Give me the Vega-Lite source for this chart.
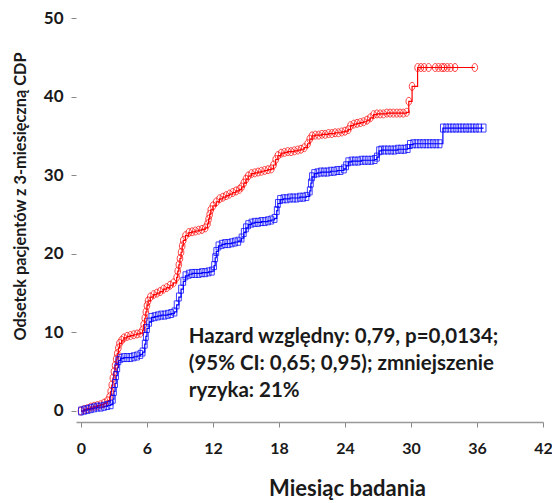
{
  "$schema": "https://vega.github.io/schema/vega-lite/v6.json",
  "autosize": {"type": "none"},
  "width": 467,
  "height": 404,
  "padding": {"left": 76, "top": 18, "right": 9, "bottom": 81},
  "background": "white",
  "config": {"view": {"stroke": null}, "font": "Lato"},
  "datasets": {
    "curves": [
      {"grupa": "kontrola", "miesiac": 0.0, "odsetek": 0},
      {"grupa": "kontrola", "miesiac": 0.3, "odsetek": 0.2},
      {"grupa": "kontrola", "miesiac": 0.6, "odsetek": 0.3},
      {"grupa": "kontrola", "miesiac": 0.9, "odsetek": 0.5},
      {"grupa": "kontrola", "miesiac": 1.2, "odsetek": 0.6},
      {"grupa": "kontrola", "miesiac": 1.5, "odsetek": 0.7},
      {"grupa": "kontrola", "miesiac": 1.8, "odsetek": 0.8},
      {"grupa": "kontrola", "miesiac": 2.1, "odsetek": 1.0},
      {"grupa": "kontrola", "miesiac": 2.4, "odsetek": 1.3},
      {"grupa": "kontrola", "miesiac": 2.6, "odsetek": 1.8},
      {"grupa": "kontrola", "miesiac": 2.7, "odsetek": 2.5},
      {"grupa": "kontrola", "miesiac": 2.8, "odsetek": 3.3},
      {"grupa": "kontrola", "miesiac": 2.9, "odsetek": 4.2},
      {"grupa": "kontrola", "miesiac": 3.0, "odsetek": 5.0},
      {"grupa": "kontrola", "miesiac": 3.1, "odsetek": 5.8},
      {"grupa": "kontrola", "miesiac": 3.2, "odsetek": 6.6},
      {"grupa": "kontrola", "miesiac": 3.3, "odsetek": 7.3},
      {"grupa": "kontrola", "miesiac": 3.4, "odsetek": 8.0},
      {"grupa": "kontrola", "miesiac": 3.5, "odsetek": 8.6},
      {"grupa": "kontrola", "miesiac": 3.7, "odsetek": 9.0},
      {"grupa": "kontrola", "miesiac": 3.9, "odsetek": 9.3},
      {"grupa": "kontrola", "miesiac": 4.2, "odsetek": 9.5},
      {"grupa": "kontrola", "miesiac": 4.5, "odsetek": 9.6},
      {"grupa": "kontrola", "miesiac": 4.8, "odsetek": 9.7},
      {"grupa": "kontrola", "miesiac": 5.1, "odsetek": 9.8},
      {"grupa": "kontrola", "miesiac": 5.4, "odsetek": 9.9},
      {"grupa": "kontrola", "miesiac": 5.6, "odsetek": 10.3},
      {"grupa": "kontrola", "miesiac": 5.7, "odsetek": 11.0},
      {"grupa": "kontrola", "miesiac": 5.8, "odsetek": 11.8},
      {"grupa": "kontrola", "miesiac": 5.9, "odsetek": 12.6},
      {"grupa": "kontrola", "miesiac": 6.0, "odsetek": 13.4},
      {"grupa": "kontrola", "miesiac": 6.1, "odsetek": 14.0},
      {"grupa": "kontrola", "miesiac": 6.3, "odsetek": 14.5},
      {"grupa": "kontrola", "miesiac": 6.6, "odsetek": 14.8},
      {"grupa": "kontrola", "miesiac": 6.9, "odsetek": 15.0},
      {"grupa": "kontrola", "miesiac": 7.2, "odsetek": 15.2},
      {"grupa": "kontrola", "miesiac": 7.5, "odsetek": 15.5},
      {"grupa": "kontrola", "miesiac": 7.8, "odsetek": 15.7},
      {"grupa": "kontrola", "miesiac": 8.1, "odsetek": 16.0},
      {"grupa": "kontrola", "miesiac": 8.4, "odsetek": 16.3},
      {"grupa": "kontrola", "miesiac": 8.7, "odsetek": 17.0},
      {"grupa": "kontrola", "miesiac": 8.8, "odsetek": 17.8},
      {"grupa": "kontrola", "miesiac": 8.9, "odsetek": 18.6},
      {"grupa": "kontrola", "miesiac": 9.0, "odsetek": 19.4},
      {"grupa": "kontrola", "miesiac": 9.1, "odsetek": 20.2},
      {"grupa": "kontrola", "miesiac": 9.2, "odsetek": 21.0},
      {"grupa": "kontrola", "miesiac": 9.3, "odsetek": 21.7},
      {"grupa": "kontrola", "miesiac": 9.5, "odsetek": 22.3},
      {"grupa": "kontrola", "miesiac": 9.8, "odsetek": 22.7},
      {"grupa": "kontrola", "miesiac": 10.1, "odsetek": 22.8},
      {"grupa": "kontrola", "miesiac": 10.4, "odsetek": 22.9},
      {"grupa": "kontrola", "miesiac": 10.7, "odsetek": 23.0},
      {"grupa": "kontrola", "miesiac": 11.0, "odsetek": 23.1},
      {"grupa": "kontrola", "miesiac": 11.3, "odsetek": 23.3},
      {"grupa": "kontrola", "miesiac": 11.5, "odsetek": 23.8},
      {"grupa": "kontrola", "miesiac": 11.6, "odsetek": 24.4},
      {"grupa": "kontrola", "miesiac": 11.7, "odsetek": 25.0},
      {"grupa": "kontrola", "miesiac": 11.8, "odsetek": 25.6},
      {"grupa": "kontrola", "miesiac": 12.0, "odsetek": 26.1},
      {"grupa": "kontrola", "miesiac": 12.3, "odsetek": 26.6},
      {"grupa": "kontrola", "miesiac": 12.6, "odsetek": 27.0},
      {"grupa": "kontrola", "miesiac": 12.9, "odsetek": 27.2},
      {"grupa": "kontrola", "miesiac": 13.2, "odsetek": 27.4},
      {"grupa": "kontrola", "miesiac": 13.5, "odsetek": 27.6},
      {"grupa": "kontrola", "miesiac": 13.8, "odsetek": 27.8},
      {"grupa": "kontrola", "miesiac": 14.1, "odsetek": 28.0},
      {"grupa": "kontrola", "miesiac": 14.4, "odsetek": 28.2},
      {"grupa": "kontrola", "miesiac": 14.6, "odsetek": 28.5},
      {"grupa": "kontrola", "miesiac": 14.8, "odsetek": 29.0},
      {"grupa": "kontrola", "miesiac": 15.0, "odsetek": 29.5},
      {"grupa": "kontrola", "miesiac": 15.2, "odsetek": 29.9},
      {"grupa": "kontrola", "miesiac": 15.5, "odsetek": 30.2},
      {"grupa": "kontrola", "miesiac": 15.8, "odsetek": 30.3},
      {"grupa": "kontrola", "miesiac": 16.1, "odsetek": 30.4},
      {"grupa": "kontrola", "miesiac": 16.4, "odsetek": 30.5},
      {"grupa": "kontrola", "miesiac": 16.7, "odsetek": 30.6},
      {"grupa": "kontrola", "miesiac": 17.0, "odsetek": 30.7},
      {"grupa": "kontrola", "miesiac": 17.3, "odsetek": 30.8},
      {"grupa": "kontrola", "miesiac": 17.5, "odsetek": 31.3},
      {"grupa": "kontrola", "miesiac": 17.7, "odsetek": 32.0},
      {"grupa": "kontrola", "miesiac": 17.9, "odsetek": 32.5},
      {"grupa": "kontrola", "miesiac": 18.2, "odsetek": 32.8},
      {"grupa": "kontrola", "miesiac": 18.5, "odsetek": 32.9},
      {"grupa": "kontrola", "miesiac": 18.8, "odsetek": 33.0},
      {"grupa": "kontrola", "miesiac": 19.1, "odsetek": 33.0},
      {"grupa": "kontrola", "miesiac": 19.4, "odsetek": 33.1},
      {"grupa": "kontrola", "miesiac": 19.7, "odsetek": 33.2},
      {"grupa": "kontrola", "miesiac": 20.0, "odsetek": 33.3},
      {"grupa": "kontrola", "miesiac": 20.3, "odsetek": 33.5},
      {"grupa": "kontrola", "miesiac": 20.6, "odsetek": 34.0},
      {"grupa": "kontrola", "miesiac": 20.8, "odsetek": 34.6},
      {"grupa": "kontrola", "miesiac": 21.0, "odsetek": 35.0},
      {"grupa": "kontrola", "miesiac": 21.3, "odsetek": 35.1},
      {"grupa": "kontrola", "miesiac": 21.6, "odsetek": 35.1},
      {"grupa": "kontrola", "miesiac": 21.9, "odsetek": 35.2},
      {"grupa": "kontrola", "miesiac": 22.2, "odsetek": 35.2},
      {"grupa": "kontrola", "miesiac": 22.5, "odsetek": 35.3},
      {"grupa": "kontrola", "miesiac": 22.8, "odsetek": 35.3},
      {"grupa": "kontrola", "miesiac": 23.1, "odsetek": 35.4},
      {"grupa": "kontrola", "miesiac": 23.4, "odsetek": 35.4},
      {"grupa": "kontrola", "miesiac": 23.7, "odsetek": 35.5},
      {"grupa": "kontrola", "miesiac": 24.0, "odsetek": 35.6},
      {"grupa": "kontrola", "miesiac": 24.3, "odsetek": 35.8},
      {"grupa": "kontrola", "miesiac": 24.5, "odsetek": 36.3},
      {"grupa": "kontrola", "miesiac": 24.8, "odsetek": 36.5},
      {"grupa": "kontrola", "miesiac": 25.1, "odsetek": 36.6},
      {"grupa": "kontrola", "miesiac": 25.4, "odsetek": 36.7},
      {"grupa": "kontrola", "miesiac": 25.7, "odsetek": 36.8},
      {"grupa": "kontrola", "miesiac": 26.0, "odsetek": 37.0},
      {"grupa": "kontrola", "miesiac": 26.3, "odsetek": 37.3},
      {"grupa": "kontrola", "miesiac": 26.6, "odsetek": 37.7},
      {"grupa": "kontrola", "miesiac": 26.9, "odsetek": 37.8},
      {"grupa": "kontrola", "miesiac": 27.2, "odsetek": 37.8},
      {"grupa": "kontrola", "miesiac": 27.5, "odsetek": 37.8},
      {"grupa": "kontrola", "miesiac": 27.8, "odsetek": 37.9},
      {"grupa": "kontrola", "miesiac": 28.1, "odsetek": 37.9},
      {"grupa": "kontrola", "miesiac": 28.4, "odsetek": 37.9},
      {"grupa": "kontrola", "miesiac": 28.7, "odsetek": 37.9},
      {"grupa": "kontrola", "miesiac": 29.0, "odsetek": 37.9},
      {"grupa": "kontrola", "miesiac": 29.3, "odsetek": 37.9},
      {"grupa": "kontrola", "miesiac": 29.6, "odsetek": 38.0},
      {"grupa": "kontrola", "miesiac": 29.8, "odsetek": 39.4},
      {"grupa": "kontrola", "miesiac": 30.1, "odsetek": 41.3},
      {"grupa": "kontrola", "miesiac": 30.6, "odsetek": 43.7},
      {"grupa": "kontrola", "miesiac": 30.9, "odsetek": 43.7},
      {"grupa": "kontrola", "miesiac": 31.2, "odsetek": 43.7},
      {"grupa": "kontrola", "miesiac": 31.6, "odsetek": 43.7},
      {"grupa": "kontrola", "miesiac": 32.2, "odsetek": 43.7},
      {"grupa": "kontrola", "miesiac": 32.5, "odsetek": 43.7},
      {"grupa": "kontrola", "miesiac": 32.8, "odsetek": 43.7},
      {"grupa": "kontrola", "miesiac": 33.0, "odsetek": 43.7},
      {"grupa": "kontrola", "miesiac": 33.3, "odsetek": 43.7},
      {"grupa": "kontrola", "miesiac": 33.6, "odsetek": 43.7},
      {"grupa": "kontrola", "miesiac": 34.0, "odsetek": 43.7},
      {"grupa": "kontrola", "miesiac": 35.8, "odsetek": 43.7},
      {"grupa": "leczenie", "miesiac": 0.0, "odsetek": 0},
      {"grupa": "leczenie", "miesiac": 0.3, "odsetek": 0.1},
      {"grupa": "leczenie", "miesiac": 0.6, "odsetek": 0.2},
      {"grupa": "leczenie", "miesiac": 0.9, "odsetek": 0.3},
      {"grupa": "leczenie", "miesiac": 1.2, "odsetek": 0.4},
      {"grupa": "leczenie", "miesiac": 1.5, "odsetek": 0.5},
      {"grupa": "leczenie", "miesiac": 1.8, "odsetek": 0.5},
      {"grupa": "leczenie", "miesiac": 2.1, "odsetek": 0.6},
      {"grupa": "leczenie", "miesiac": 2.4, "odsetek": 0.7},
      {"grupa": "leczenie", "miesiac": 2.7, "odsetek": 0.8},
      {"grupa": "leczenie", "miesiac": 2.9, "odsetek": 1.5},
      {"grupa": "leczenie", "miesiac": 3.0, "odsetek": 2.5},
      {"grupa": "leczenie", "miesiac": 3.1, "odsetek": 3.5},
      {"grupa": "leczenie", "miesiac": 3.2, "odsetek": 4.5},
      {"grupa": "leczenie", "miesiac": 3.3, "odsetek": 5.5},
      {"grupa": "leczenie", "miesiac": 3.4, "odsetek": 6.4},
      {"grupa": "leczenie", "miesiac": 3.6, "odsetek": 6.7},
      {"grupa": "leczenie", "miesiac": 3.9, "odsetek": 6.8},
      {"grupa": "leczenie", "miesiac": 4.2, "odsetek": 6.8},
      {"grupa": "leczenie", "miesiac": 4.5, "odsetek": 6.8},
      {"grupa": "leczenie", "miesiac": 4.8, "odsetek": 6.9},
      {"grupa": "leczenie", "miesiac": 5.1, "odsetek": 7.0},
      {"grupa": "leczenie", "miesiac": 5.4, "odsetek": 7.2},
      {"grupa": "leczenie", "miesiac": 5.6, "odsetek": 7.5},
      {"grupa": "leczenie", "miesiac": 5.8, "odsetek": 8.5},
      {"grupa": "leczenie", "miesiac": 5.9, "odsetek": 9.5},
      {"grupa": "leczenie", "miesiac": 6.0, "odsetek": 10.5},
      {"grupa": "leczenie", "miesiac": 6.2, "odsetek": 11.3},
      {"grupa": "leczenie", "miesiac": 6.4, "odsetek": 11.9},
      {"grupa": "leczenie", "miesiac": 6.7, "odsetek": 12.0},
      {"grupa": "leczenie", "miesiac": 7.0, "odsetek": 12.1},
      {"grupa": "leczenie", "miesiac": 7.3, "odsetek": 12.2},
      {"grupa": "leczenie", "miesiac": 7.6, "odsetek": 12.2},
      {"grupa": "leczenie", "miesiac": 7.9, "odsetek": 12.3},
      {"grupa": "leczenie", "miesiac": 8.2, "odsetek": 12.4},
      {"grupa": "leczenie", "miesiac": 8.5, "odsetek": 12.6},
      {"grupa": "leczenie", "miesiac": 8.7, "odsetek": 13.5},
      {"grupa": "leczenie", "miesiac": 8.9, "odsetek": 14.5},
      {"grupa": "leczenie", "miesiac": 9.1, "odsetek": 15.5},
      {"grupa": "leczenie", "miesiac": 9.3, "odsetek": 16.5},
      {"grupa": "leczenie", "miesiac": 9.5, "odsetek": 17.2},
      {"grupa": "leczenie", "miesiac": 9.8, "odsetek": 17.4},
      {"grupa": "leczenie", "miesiac": 10.1, "odsetek": 17.5},
      {"grupa": "leczenie", "miesiac": 10.4, "odsetek": 17.5},
      {"grupa": "leczenie", "miesiac": 10.7, "odsetek": 17.5},
      {"grupa": "leczenie", "miesiac": 11.0, "odsetek": 17.6},
      {"grupa": "leczenie", "miesiac": 11.3, "odsetek": 17.6},
      {"grupa": "leczenie", "miesiac": 11.6, "odsetek": 17.7},
      {"grupa": "leczenie", "miesiac": 11.9, "odsetek": 17.8},
      {"grupa": "leczenie", "miesiac": 12.1, "odsetek": 18.5},
      {"grupa": "leczenie", "miesiac": 12.2, "odsetek": 19.5},
      {"grupa": "leczenie", "miesiac": 12.3, "odsetek": 20.3},
      {"grupa": "leczenie", "miesiac": 12.5, "odsetek": 21.0},
      {"grupa": "leczenie", "miesiac": 12.8, "odsetek": 21.2},
      {"grupa": "leczenie", "miesiac": 13.1, "odsetek": 21.3},
      {"grupa": "leczenie", "miesiac": 13.4, "odsetek": 21.3},
      {"grupa": "leczenie", "miesiac": 13.7, "odsetek": 21.4},
      {"grupa": "leczenie", "miesiac": 14.0, "odsetek": 21.5},
      {"grupa": "leczenie", "miesiac": 14.3, "odsetek": 21.6},
      {"grupa": "leczenie", "miesiac": 14.6, "odsetek": 22.0},
      {"grupa": "leczenie", "miesiac": 14.8, "odsetek": 22.7},
      {"grupa": "leczenie", "miesiac": 15.0, "odsetek": 23.3},
      {"grupa": "leczenie", "miesiac": 15.2, "odsetek": 23.7},
      {"grupa": "leczenie", "miesiac": 15.5, "odsetek": 23.9},
      {"grupa": "leczenie", "miesiac": 15.8, "odsetek": 24.0},
      {"grupa": "leczenie", "miesiac": 16.1, "odsetek": 24.0},
      {"grupa": "leczenie", "miesiac": 16.4, "odsetek": 24.1},
      {"grupa": "leczenie", "miesiac": 16.7, "odsetek": 24.1},
      {"grupa": "leczenie", "miesiac": 17.0, "odsetek": 24.2},
      {"grupa": "leczenie", "miesiac": 17.3, "odsetek": 24.3},
      {"grupa": "leczenie", "miesiac": 17.6, "odsetek": 24.5},
      {"grupa": "leczenie", "miesiac": 17.8, "odsetek": 25.5},
      {"grupa": "leczenie", "miesiac": 17.9, "odsetek": 26.4},
      {"grupa": "leczenie", "miesiac": 18.1, "odsetek": 26.9},
      {"grupa": "leczenie", "miesiac": 18.4, "odsetek": 27.0},
      {"grupa": "leczenie", "miesiac": 18.7, "odsetek": 27.0},
      {"grupa": "leczenie", "miesiac": 19.0, "odsetek": 27.1},
      {"grupa": "leczenie", "miesiac": 19.3, "odsetek": 27.1},
      {"grupa": "leczenie", "miesiac": 19.6, "odsetek": 27.1},
      {"grupa": "leczenie", "miesiac": 19.9, "odsetek": 27.2},
      {"grupa": "leczenie", "miesiac": 20.2, "odsetek": 27.2},
      {"grupa": "leczenie", "miesiac": 20.5, "odsetek": 27.3},
      {"grupa": "leczenie", "miesiac": 20.8, "odsetek": 28.0},
      {"grupa": "leczenie", "miesiac": 20.9, "odsetek": 29.0},
      {"grupa": "leczenie", "miesiac": 21.0, "odsetek": 29.8},
      {"grupa": "leczenie", "miesiac": 21.2, "odsetek": 30.2},
      {"grupa": "leczenie", "miesiac": 21.5, "odsetek": 30.3},
      {"grupa": "leczenie", "miesiac": 21.8, "odsetek": 30.4},
      {"grupa": "leczenie", "miesiac": 22.1, "odsetek": 30.4},
      {"grupa": "leczenie", "miesiac": 22.4, "odsetek": 30.4},
      {"grupa": "leczenie", "miesiac": 22.7, "odsetek": 30.5},
      {"grupa": "leczenie", "miesiac": 23.0, "odsetek": 30.5},
      {"grupa": "leczenie", "miesiac": 23.3, "odsetek": 30.6},
      {"grupa": "leczenie", "miesiac": 23.6, "odsetek": 30.6},
      {"grupa": "leczenie", "miesiac": 23.9, "odsetek": 30.8},
      {"grupa": "leczenie", "miesiac": 24.1, "odsetek": 31.2},
      {"grupa": "leczenie", "miesiac": 24.3, "odsetek": 31.7},
      {"grupa": "leczenie", "miesiac": 24.6, "odsetek": 31.8},
      {"grupa": "leczenie", "miesiac": 24.9, "odsetek": 31.8},
      {"grupa": "leczenie", "miesiac": 25.2, "odsetek": 31.8},
      {"grupa": "leczenie", "miesiac": 25.5, "odsetek": 31.9},
      {"grupa": "leczenie", "miesiac": 25.8, "odsetek": 31.9},
      {"grupa": "leczenie", "miesiac": 26.1, "odsetek": 31.9},
      {"grupa": "leczenie", "miesiac": 26.4, "odsetek": 31.9},
      {"grupa": "leczenie", "miesiac": 26.7, "odsetek": 32.0},
      {"grupa": "leczenie", "miesiac": 26.9, "odsetek": 32.3},
      {"grupa": "leczenie", "miesiac": 27.1, "odsetek": 33.1},
      {"grupa": "leczenie", "miesiac": 27.3, "odsetek": 33.2},
      {"grupa": "leczenie", "miesiac": 27.6, "odsetek": 33.2},
      {"grupa": "leczenie", "miesiac": 27.9, "odsetek": 33.2},
      {"grupa": "leczenie", "miesiac": 28.2, "odsetek": 33.2},
      {"grupa": "leczenie", "miesiac": 28.5, "odsetek": 33.2},
      {"grupa": "leczenie", "miesiac": 28.8, "odsetek": 33.3},
      {"grupa": "leczenie", "miesiac": 29.1, "odsetek": 33.3},
      {"grupa": "leczenie", "miesiac": 29.4, "odsetek": 33.3},
      {"grupa": "leczenie", "miesiac": 29.7, "odsetek": 33.4},
      {"grupa": "leczenie", "miesiac": 29.9, "odsetek": 33.9},
      {"grupa": "leczenie", "miesiac": 30.2, "odsetek": 34.0},
      {"grupa": "leczenie", "miesiac": 30.5, "odsetek": 34.0},
      {"grupa": "leczenie", "miesiac": 30.8, "odsetek": 34.0},
      {"grupa": "leczenie", "miesiac": 31.1, "odsetek": 34.0},
      {"grupa": "leczenie", "miesiac": 31.4, "odsetek": 34.0},
      {"grupa": "leczenie", "miesiac": 31.7, "odsetek": 34.0},
      {"grupa": "leczenie", "miesiac": 32.0, "odsetek": 34.0},
      {"grupa": "leczenie", "miesiac": 32.3, "odsetek": 34.0},
      {"grupa": "leczenie", "miesiac": 32.6, "odsetek": 34.0},
      {"grupa": "leczenie", "miesiac": 32.9, "odsetek": 36.0},
      {"grupa": "leczenie", "miesiac": 33.2, "odsetek": 36.0},
      {"grupa": "leczenie", "miesiac": 33.5, "odsetek": 36.0},
      {"grupa": "leczenie", "miesiac": 33.8, "odsetek": 36.0},
      {"grupa": "leczenie", "miesiac": 34.1, "odsetek": 36.0},
      {"grupa": "leczenie", "miesiac": 34.4, "odsetek": 36.0},
      {"grupa": "leczenie", "miesiac": 34.7, "odsetek": 36.0},
      {"grupa": "leczenie", "miesiac": 35.0, "odsetek": 36.0},
      {"grupa": "leczenie", "miesiac": 35.3, "odsetek": 36.0},
      {"grupa": "leczenie", "miesiac": 35.6, "odsetek": 36.0},
      {"grupa": "leczenie", "miesiac": 35.9, "odsetek": 36.0},
      {"grupa": "leczenie", "miesiac": 36.2, "odsetek": 36.0},
      {"grupa": "leczenie", "miesiac": 36.6, "odsetek": 36.0}
    ],
    "notes": [
      {"tekst": "Hazard względny: 0,79, p=0,0134;", "miesiac": 9.8, "odsetek": 8.66},
      {"tekst": "(95% CI: 0,65; 0,95); zmniejszenie", "miesiac": 9.8, "odsetek": 5.22},
      {"tekst": "ryzyka: 21%", "miesiac": 9.8, "odsetek": 1.78}
    ]
  },
  "layer": [
    {
      "data": {"name": "curves"},
      "mark": {"type": "line", "interpolate": "step-after", "strokeWidth": 1.2},
      "encoding": {
        "x": {
          "field": "miesiac", "type": "quantitative",
          "scale": {"domain": [-0.45, 42], "nice": false, "zero": false},
          "axis": {
            "values": [0, 6, 12, 18, 24, 30, 36, 42],
            "title": "Miesiąc badania",
            "titleFont": "Lato", "titleFontSize": 22, "titleFontWeight": "bold", "titleColor": "#1a1a1a",
            "titleX": 271, "titleY": 73, "titleBaseline": "alphabetic", "titleAnchor": null,
            "labelFont": "Lato", "labelFontSize": 16, "labelFontWeight": "bold", "labelColor": "#1a1a1a",
            "labelPadding": 13, "labelDx": -1, "tickSize": 5, "tickColor": "#888888", "domainColor": "#999999", "domainWidth": 1.5,
            "grid": false, "labelFlush": false
          }
        },
        "y": {
          "field": "odsetek", "type": "quantitative",
          "scale": {"domain": [-1.4, 50], "nice": false, "zero": false},
          "axis": {
            "values": [0, 10, 20, 30, 40, 50],
            "title": "Odsetek pacjentów z 3-miesięczną CDP",
            "titleFont": "Lato", "titleFontSize": 16.3, "titleFontWeight": "bold", "titleColor": "#1a1a1a",
            "titleX": -56, "titleY": 178, "titleAngle": -90, "titleBaseline": "middle", "titleAlign": "center", "titleAnchor": null,
            "labelFont": "Lato", "labelFontSize": 17, "labelFontWeight": "bold", "labelColor": "#1a1a1a",
            "labelPadding": 8, "tickSize": 5, "tickColor": "#888888", "domain": false,
            "grid": false, "labelFlush": false
          }
        },
        "color": {
          "field": "grupa", "type": "nominal",
          "scale": {"domain": ["kontrola", "leczenie"], "range": ["#ff0000", "#0000ff"]},
          "legend": null
        },
        "detail": {"field": "grupa"}
      }
    },
    {
      "data": {"name": "curves"},
      "mark": {"type": "point", "filled": false, "strokeWidth": 1, "opacity": 0.75, "size": 64},
      "encoding": {
        "x": {"field": "miesiac", "type": "quantitative"},
        "y": {"field": "odsetek", "type": "quantitative"},
        "color": {"field": "grupa", "type": "nominal", "legend": null},
        "shape": {
          "field": "grupa", "type": "nominal",
          "scale": {"domain": ["kontrola", "leczenie"], "range": ["M-0.7,0A0.7,1,0,1,0,0.7,0A0.7,1,0,1,0,-0.7,0Z", "M-0.6,-1L0.6,-1L0.6,1L-0.6,1Z"]},
          "legend": null
        }
      }
    },
    {
      "data": {"name": "notes"},
      "mark": {"type": "text", "align": "left", "baseline": "alphabetic", "font": "Lato", "fontSize": 20.5, "fontWeight": "bold", "color": "#1a1a1a"},
      "encoding": {
        "x": {"field": "miesiac", "type": "quantitative"},
        "y": {"field": "odsetek", "type": "quantitative"},
        "text": {"field": "tekst"}
      }
    }
  ]
}
